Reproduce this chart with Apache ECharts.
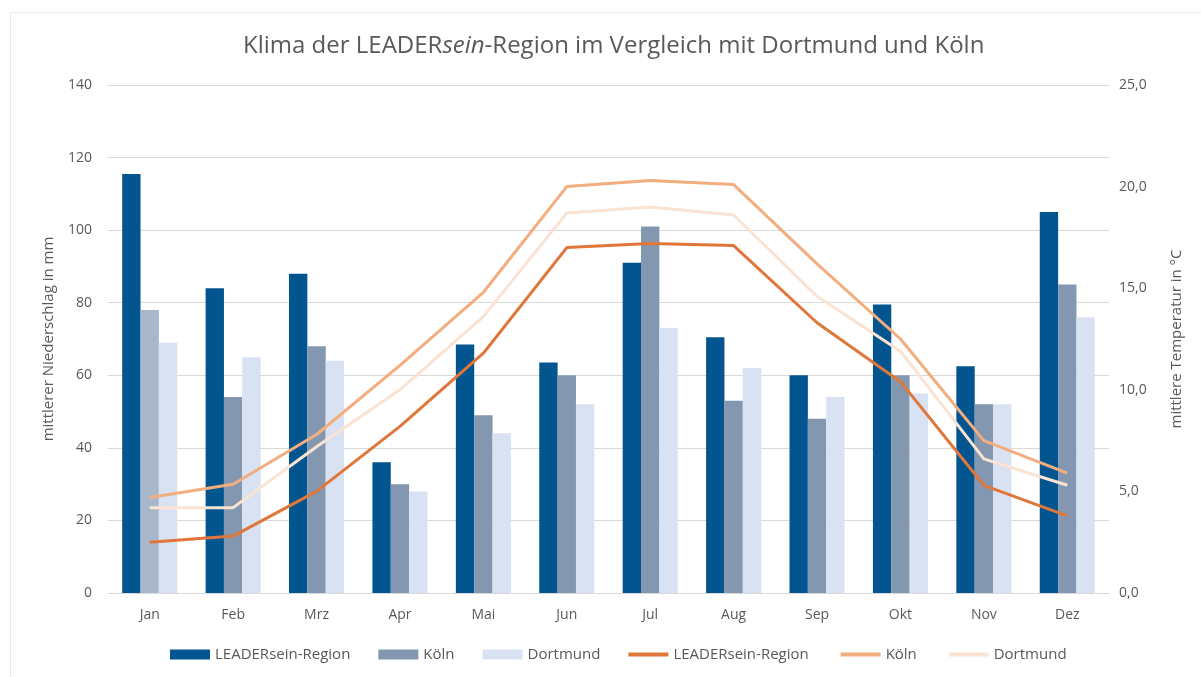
<!DOCTYPE html>
<html lang="de">
<head>
    <meta charset="UTF-8">
    <title>Klima der LEADERsein-Region</title>
    <script src="https://cdn.jsdelivr.net/npm/echarts@6/dist/echarts.min.js"></script>
    <style>
        html, body { margin: 0; padding: 0; background: #fff; }
        #chart { width: 1201px; height: 677px; }
        .frame {
            position: absolute; left: 10px; top: 12px; width: 1200px; height: 680px;
            border: 1px solid #ececec; pointer-events: none;
        }
    </style>
</head>
<body>
<div id="chart"></div>
<div class="frame"></div>
<script>
    // Monate
    var months = ['Jan', 'Feb', 'Mrz', 'Apr', 'Mai', 'Jun', 'Jul', 'Aug', 'Sep', 'Okt', 'Nov', 'Dez'];

    // Niederschlag in mm
    var rainLeader = [115.5, 84, 88, 36, 68.5, 63.5, 91, 70.5, 60, 79.5, 62.5, 105];
    var rainKoeln = [78, 54, 68, 30, 49, 60, 101, 53, 48, 60, 52, 85];
    var rainDortmund = [69, 65, 64, 28, 44, 52, 73, 62, 54, 55, 52, 76];

    // Temperatur in °C
    var tempLeader = [2.5, 2.8, 5.0, 8.2, 11.8, 17.0, 17.2, 17.1, 13.3, 10.4, 5.3, 3.8];
    var tempKoeln = [4.7, 5.35, 7.8, 11.2, 14.8, 20.0, 20.3, 20.1, 16.2, 12.5, 7.5, 5.9];
    var tempDortmund = [4.2, 4.2, 7.2, 10.0, 13.6, 18.7, 19.0, 18.6, 14.6, 11.9, 6.6, 5.3];

    var txt = '#595959';
    var font = 'Open Sans';
    var lineIcon = 'path://M0,0 H40 V4 H0 Z';

    var myChart = echarts.init(document.getElementById('chart'));
    var option = {
        backgroundColor: 'transparent',
        textStyle: { fontFamily: font },
        title: {
            text: '{a|Klima der LEADER}{b|sein}{a|-Region im Vergleich mit Dortmund und Köln}',
            left: 238,
            top: 29,
            textStyle: {
                fontWeight: 'normal',
                rich: {
                    a: { fontSize: 24, color: txt, fontFamily: font, fontWeight: 'normal' },
                    b: { fontSize: 24, color: txt, fontFamily: font, fontWeight: 'normal', fontStyle: 'italic' }
                }
            }
        },
        legend: {
            bottom: 10,
            left: 165,
            itemWidth: 40,
            itemHeight: 10,
            itemGap: 28,
            textStyle: { fontSize: 15, color: txt, fontFamily: font },
            data: [
                { name: 'LEADERsein-Region', icon: 'rect' },
                { name: 'Köln', icon: 'rect' },
                { name: 'Dortmund', icon: 'rect' },
                { name: 'LEADERsein-Region ', icon: lineIcon },
                { name: 'Köln ', icon: lineIcon },
                { name: 'Dortmund ', icon: lineIcon }
            ]
        },
        grid: {
            left: 108,
            right: 92,
            top: 85,
            bottom: 84
        },
        xAxis: {
            type: 'category',
            data: months,
            axisTick: { show: false },
            axisLine: { lineStyle: { color: '#d9d9d9' } },
            axisLabel: { color: txt, fontSize: 14, margin: 15 }
        },
        yAxis: [
            {
                type: 'value',
                min: 0,
                max: 140,
                interval: 20,
                name: 'mittlerer Niederschlag in mm',
                nameLocation: 'middle',
                nameGap: 52,
                nameTextStyle: { color: txt, fontSize: 15 },
                axisLabel: { color: txt, fontSize: 14, margin: 16 },
                splitLine: { lineStyle: { color: '#d9d9d9' } }
            },
            {
                type: 'value',
                min: 0,
                max: 25,
                interval: 5,
                name: 'mittlere Temperatur in °C',
                nameLocation: 'middle',
                nameGap: 60,
                nameTextStyle: { color: txt, fontSize: 15 },
                axisLabel: {
                    color: txt, fontSize: 14, margin: 10,
                    formatter: function (v) { return v.toFixed(1).replace('.', ','); }
                },
                splitLine: { show: false }
            }
        ],
        series: [
            {
                name: 'LEADERsein-Region',
                type: 'bar',
                barGap: 0,
                barCategoryGap: '34%',
                itemStyle: { color: '#03558f' },
                data: rainLeader
            },
            {
                name: 'Köln',
                type: 'bar',
                itemStyle: { color: '#8497b0' },
                data: rainKoeln.map(function (v, i) {
                    // Januar-Balken ist im Original heller dargestellt
                    return i === 0 ? { value: v, itemStyle: { color: '#a9b7cb' } } : v;
                })
            },
            {
                name: 'Dortmund',
                type: 'bar',
                itemStyle: { color: '#d9e2f3' },
                data: rainDortmund
            },
            {
                name: 'LEADERsein-Region ',
                type: 'line',
                yAxisIndex: 1,
                symbol: 'none',
                symbolKeepAspect: true,
                lineStyle: { width: 3, color: '#e0773a' },
                itemStyle: { color: '#e0773a' },
                data: tempLeader
            },
            {
                name: 'Köln ',
                type: 'line',
                yAxisIndex: 1,
                symbol: 'none',
                symbolKeepAspect: true,
                lineStyle: { width: 3, color: '#f2ae7e' },
                itemStyle: { color: '#f2ae7e' },
                data: tempKoeln
            },
            {
                name: 'Dortmund ',
                type: 'line',
                yAxisIndex: 1,
                symbol: 'none',
                symbolKeepAspect: true,
                lineStyle: { width: 3, color: '#fae3d3' },
                itemStyle: { color: '#fae3d3' },
                data: tempDortmund
            }
        ]
    };
    myChart.setOption(option);
</script>
</body>
</html>
